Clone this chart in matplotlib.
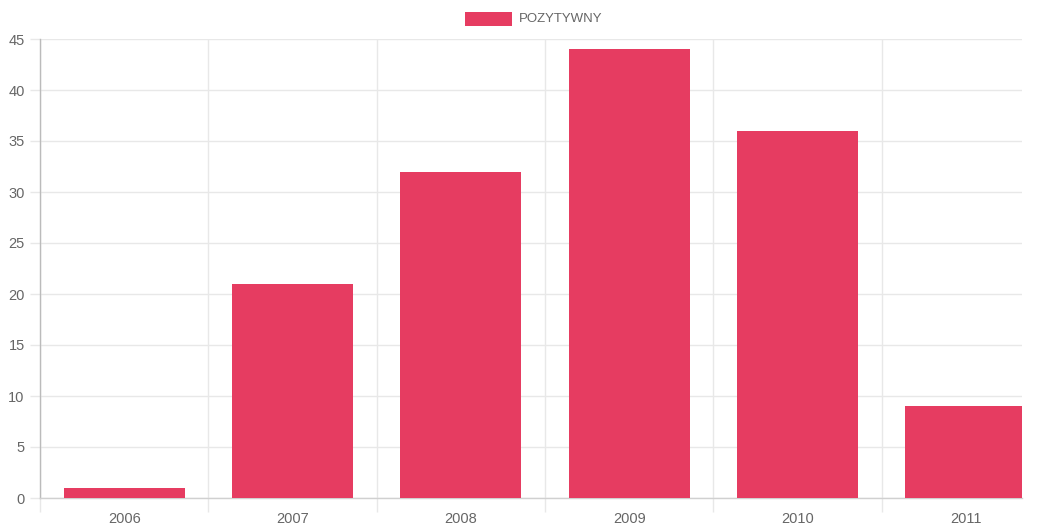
import matplotlib
matplotlib.use("Agg")
import matplotlib.pyplot as plt
from matplotlib.patches import Rectangle

categories = ["2006", "2007", "2008", "2009", "2010", "2011"]
values = [1, 21, 32, 44, 36, 9]
series_name = "POZYTYWNY"
yticks = [0, 5, 10, 15, 20, 25, 30, 35, 40, 45]

W, H = 1045, 528
fig = plt.figure(figsize=(W / 100, H / 100), dpi=100)
plt.rcParams['font.family'] = ['Liberation Sans', 'DejaVu Sans']

left, right, top, bottom = 40, 1022, 39, 498
ax = fig.add_axes([left / W, (H - bottom) / H, (right - left) / W, (bottom - top) / H])

color = "#E63C61"
grid_c = "#E8E8E8"
txt_c = "#666666"

cat_px = 168.33
x = list(range(len(categories)))
ax.bar(x, values, width=0.72, color=color, zorder=3)

ax.set_yticks(yticks)
ax.set_yticklabels([str(v) for v in yticks])
ax.set_xticks(x)
ax.set_xticklabels(categories)
ax.set_xticks([i - 0.5 for i in range(len(categories) + 1)], minor=True)
ax.set_xlim(-0.5, -0.5 + (right - left) / cat_px)
ax.set_ylim(0, 45)

ax.grid(True, axis='y', color=grid_c, linewidth=1, zorder=0)
ax.grid(True, axis='x', which='minor', color=grid_c, linewidth=1, zorder=0)

ax.tick_params(axis='x', which='major', length=0, pad=10, labelsize=10.5, labelcolor=txt_c)
ax.tick_params(axis='x', which='minor', length=10, color=grid_c, width=1)
ax.tick_params(axis='y', which='major', length=7, color=grid_c, width=1, pad=4,
               labelsize=10.5, labelcolor=txt_c)

for s in ['top', 'right']:
    ax.spines[s].set_visible(False)
ax.spines['left'].set_color("#BBBBBB")
ax.spines['bottom'].set_color("#D0D0D0")
ax.spines['left'].set_linewidth(1)
ax.spines['bottom'].set_linewidth(1)

# legend
fig.patches.append(Rectangle((465 / W, (H - 26) / H), 47 / W, 14 / H,
                             transform=fig.transFigure, facecolor=color,
                             edgecolor='none'))
fig.text(519 / W, (H - 19) / H, series_name, fontsize=9.5, color=txt_c,
         va='center', ha='left')

fig.savefig("out.png", dpi=100, facecolor='white')
